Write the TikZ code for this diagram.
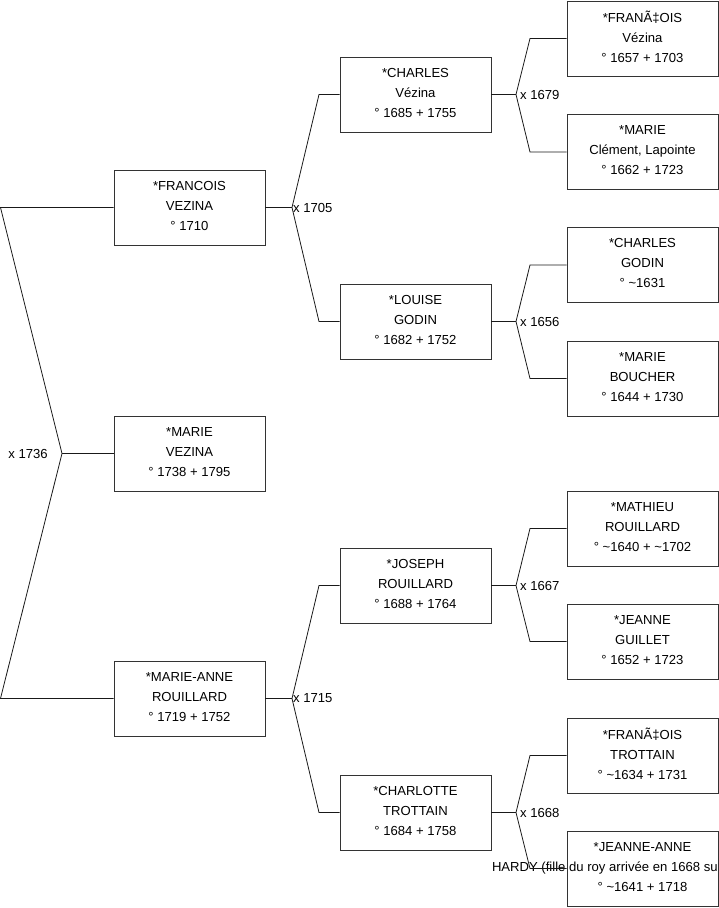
\documentclass[tikz,border=0pt]{standalone}
\usepackage{fontspec}
\setmainfont{Liberation Sans}
\tikzset{
  person/.style={draw=black!80, line width=0.9pt, fill=white, minimum width=151pt, minimum height=75pt, inner sep=0pt, align=center, text depth=4pt, font=\fontsize{13.1}{20}\selectfont},
  link/.style={draw=black!90, line width=0.8pt},
  wed/.style={font=\fontsize{13.1}{15}\selectfont, inner sep=1pt}
}
\begin{document}
\begin{tikzpicture}[x=1pt,y=-1pt]
\useasboundingbox (0,0) rectangle (719,908);
\clip (0,0) rectangle (719,908);
% generation 1
\node[person] (francois) at (189.5,207.5) {*FRANCOIS\\VEZINA\\° 1710};
\node[person] (marie) at (189.5,453.5) {*MARIE\\VEZINA\\° 1738 + 1795};
\node[person] (marieanne) at (189.5,698.5) {*MARIE-ANNE\\ROUILLARD\\° 1719 + 1752};
% generation 2
\node[person] (charles) at (415.5,94.5) {*CHARLES\\Vézina\\° 1685 + 1755};
\node[person] (louise) at (415.5,321.5) {*LOUISE\\GODIN\\° 1682 + 1752};
\node[person] (joseph) at (415.5,585.5) {*JOSEPH\\ROUILLARD\\° 1688 + 1764};
\node[person] (charlotte) at (415.5,812.5) {*CHARLOTTE\\TROTTAIN\\° 1684 + 1758};
% generation 3
\node[person] (francoisv) at (642.5,38.5) {*FRANÃ‡OIS\\Vézina\\° 1657 + 1703};
\node[person] (mariec) at (642.5,152) {*MARIE\\Clément, Lapointe\\° 1662 + 1723};
\node[person] (charlesg) at (642.5,265) {*CHARLES\\GODIN\\° \textasciitilde1631};
\node[person] (marieb) at (642.5,378.5) {*MARIE\\BOUCHER\\° 1644 + 1730};
\node[person] (mathieu) at (642.5,528.5) {*MATHIEU\\ROUILLARD\\° \textasciitilde1640 + \textasciitilde1702};
\node[person] (jeanne) at (642.5,641.5) {*JEANNE\\GUILLET\\° 1652 + 1723};
\node[person] (francoist) at (642.5,755.5) {*FRANÃ‡OIS\\TROTTAIN\\° \textasciitilde1634 + 1731};
\node[person] (jeanneanne) at (642.5,868.5) {*JEANNE-ANNE\\\makebox[0pt][l]{\hspace*{-150.5pt}HARDY (fille du roy arrivée en 1668 su}\\° \textasciitilde1641 + 1718};
% fork 1736
\coordinate (t1736) at (0.5,207.5);
\coordinate (j1736) at (62,453.5);
\coordinate (b1736) at (0.5,698.5);
\draw[link] (francois.west) -- (t1736) -- (j1736) -- (b1736) -- (marieanne.west);
\draw[link] (j1736) -- (marie.west);
\node[wed, anchor=east] (w1736) at (49,453.5) {x 1736};
% fork 1705
\coordinate (j1705) at (292,207.5);
\coordinate (t1705) at (319,94.5);
\coordinate (b1705) at (319,321.5);
\draw[link] (francois.east) -- (j1705);
\draw[link] (charles.west) -- (t1705) -- (j1705) -- (b1705) -- (louise.west);
\node[wed, anchor=west] (w1705) at (j1705) {x 1705};
% fork 1715
\coordinate (j1715) at (292,698.5);
\coordinate (t1715) at (319,585.5);
\coordinate (b1715) at (319,812.5);
\draw[link] (marieanne.east) -- (j1715);
\draw[link] (joseph.west) -- (t1715) -- (j1715) -- (b1715) -- (charlotte.west);
\node[wed, anchor=west] (w1715) at (j1715) {x 1715};
% fork 1679
\coordinate (j1679) at (516,94.5);
\coordinate (t1679) at (530,38.5);
\coordinate (b1679) at (530,152);
\draw[link] (charles.east) -- (j1679);
\draw[link] (francoisv.west) -- (t1679) -- (j1679) -- (b1679) -- (mariec.west);
\node[wed, anchor=west] (w1679) at ([xshift=3pt]j1679) {x 1679};
% fork 1656
\coordinate (j1656) at (516,321.5);
\coordinate (t1656) at (530,265);
\coordinate (b1656) at (530,378.5);
\draw[link] (louise.east) -- (j1656);
\draw[link] (charlesg.west) -- (t1656) -- (j1656) -- (b1656) -- (marieb.west);
\node[wed, anchor=west] (w1656) at ([xshift=3pt]j1656) {x 1656};
% fork 1667
\coordinate (j1667) at (516,585.5);
\coordinate (t1667) at (530,528.5);
\coordinate (b1667) at (530,641.5);
\draw[link] (joseph.east) -- (j1667);
\draw[link] (mathieu.west) -- (t1667) -- (j1667) -- (b1667) -- (jeanne.west);
\node[wed, anchor=west] (w1667) at ([xshift=3pt]j1667) {x 1667};
% fork 1668
\coordinate (j1668) at (516,812.5);
\coordinate (t1668) at (530,755.5);
\coordinate (b1668) at (530,868.5);
\draw[link] (charlotte.east) -- (j1668);
\draw[link] (francoist.west) -- (t1668) -- (j1668) -- (b1668) -- (jeanneanne.west);
\node[wed, anchor=west] (w1668) at ([xshift=3pt]j1668) {x 1668};
\end{tikzpicture}
\end{document}
